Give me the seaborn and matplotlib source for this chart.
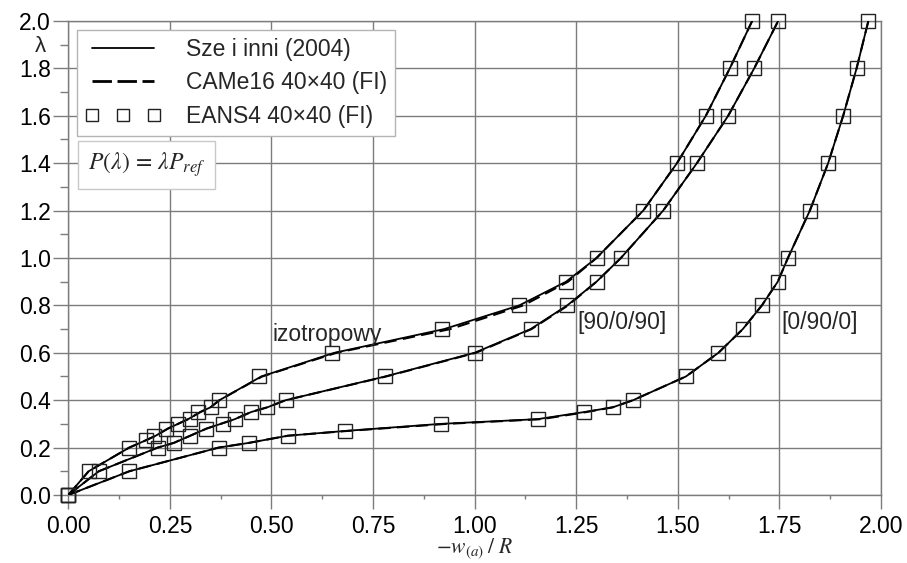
import matplotlib
matplotlib.use("Agg")
import matplotlib.pyplot as plt
from matplotlib.lines import Line2D
from matplotlib.ticker import MultipleLocator, FormatStrFormatter
import seaborn as sns

# ---------------- data ----------------
# load parameter lambda levels for each laminate
lam_iso = [0, 0.1, 0.2, 0.23, 0.25, 0.28, 0.3, 0.32, 0.35, 0.37, 0.4, 0.5, 0.6, 0.7, 0.8, 0.9, 1.0, 1.2, 1.4, 1.6, 1.8, 2.0]
lam_909 = [0, 0.1, 0.2, 0.22, 0.25, 0.28, 0.3, 0.32, 0.35, 0.37, 0.4, 0.5, 0.6, 0.7, 0.8, 0.9, 1.0, 1.2, 1.4, 1.6, 1.8, 2.0]
lam_090 = [0, 0.1, 0.2, 0.22, 0.25, 0.27, 0.3, 0.32, 0.35, 0.37, 0.4, 0.5, 0.6, 0.7, 0.8, 0.9, 1.0, 1.2, 1.4, 1.6, 1.8, 2.0]

# -w(a)/R : Sze i inni (2004)
sze_iso = [0, 0.05, 0.15, 0.19, 0.215, 0.245, 0.27, 0.295, 0.325, 0.35, 0.372, 0.475, 0.655, 0.925, 1.11, 1.225, 1.30, 1.415, 1.498, 1.569, 1.628, 1.683]
sze_909 = [0, 0.075, 0.22, 0.26, 0.30, 0.34, 0.375, 0.41, 0.45, 0.49, 0.535, 0.78, 1.0, 1.138, 1.228, 1.30, 1.36, 1.464, 1.547, 1.624, 1.688, 1.747]
sze_090 = [0, 0.15, 0.37, 0.445, 0.54, 0.68, 0.916, 1.155, 1.27, 1.34, 1.39, 1.52, 1.60, 1.66, 1.707, 1.746, 1.771, 1.825, 1.87, 1.907, 1.94, 1.969]

# -w(a)/R : CAMe16 40x40 (FI)
came_iso = [0, 0.05, 0.15, 0.19, 0.215, 0.245, 0.27, 0.295, 0.325, 0.35, 0.372, 0.477, 0.66, 0.94, 1.12, 1.23, 1.30, 1.415, 1.498, 1.569, 1.628, 1.683]
came_909 = [0, 0.075, 0.22, 0.26, 0.30, 0.34, 0.375, 0.41, 0.45, 0.49, 0.535, 0.782, 1.003, 1.14, 1.23, 1.30, 1.36, 1.464, 1.547, 1.624, 1.688, 1.747]
came_090 = [0, 0.15, 0.37, 0.445, 0.54, 0.685, 0.93, 1.165, 1.275, 1.34, 1.39, 1.52, 1.60, 1.66, 1.707, 1.746, 1.771, 1.825, 1.87, 1.907, 1.94, 1.969]

# -w(a)/R : EANS4 40x40 (FI)
eans_iso = [0, 0.05, 0.15, 0.19, 0.21, 0.24, 0.27, 0.30, 0.32, 0.35, 0.37, 0.47, 0.65, 0.92, 1.11, 1.225, 1.30, 1.415, 1.498, 1.569, 1.628, 1.683]
eans_909 = [0, 0.075, 0.22, 0.26, 0.30, 0.34, 0.38, 0.41, 0.45, 0.49, 0.535, 0.78, 1.0, 1.138, 1.228, 1.30, 1.36, 1.464, 1.547, 1.624, 1.688, 1.747]
eans_090 = [0, 0.15, 0.37, 0.445, 0.54, 0.68, 0.916, 1.155, 1.27, 1.34, 1.39, 1.52, 1.60, 1.66, 1.707, 1.746, 1.771, 1.825, 1.87, 1.907, 1.94, 1.969]

legend_labels = ["Sze i inni (2004)", "CAMe16 40×40 (FI)", "EANS4 40×40 (FI)"]
curve_labels = ["izotropowy", "[90/0/90]", "[0/90/0]"]
label_pos = [(0.502, 0.675), (1.254, 0.726), (1.756, 0.726)]

# ---------------- style ----------------
sns.set_theme(style="white")
plt.rcParams['font.family'] = ['Liberation Sans', 'DejaVu Sans']
plt.rcParams['mathtext.fontset'] = 'stix'

GRID = '#7c7c7c'
FS = 16.5

fig = plt.figure(figsize=(9.07, 5.63), dpi=100)
ax = fig.add_axes([0.0753, 0.1208, 0.896, 0.842])

ax.set_xlim(0, 2)
ax.set_ylim(0, 2)
ax.xaxis.set_major_locator(MultipleLocator(0.25))
ax.xaxis.set_minor_locator(MultipleLocator(0.125))
ax.yaxis.set_major_locator(MultipleLocator(0.2))
ax.yaxis.set_minor_locator(MultipleLocator(0.1))
ax.xaxis.set_major_formatter(FormatStrFormatter('%.2f'))
ax.yaxis.set_major_formatter(FormatStrFormatter('%.1f'))

ax.grid(True, which='major', color=GRID, lw=1.0)
ax.set_axisbelow(True)
for sp in ax.spines.values():
    sp.set_color(GRID)
    sp.set_linewidth(1.0)

ax.tick_params(axis='x', which='major', direction='out', length=10, width=1.0,
               color=GRID, pad=4.5, labelsize=FS, labelcolor='black')
ax.tick_params(axis='x', which='minor', direction='out', length=3, width=1.0, color=GRID)
ax.tick_params(axis='y', which='major', direction='out', length=10.5, width=1.0,
               color=GRID, pad=2, labelsize=FS, labelcolor='black')
ax.tick_params(axis='y', which='minor', direction='out', length=5.5, width=1.0, color=GRID)
ax.tick_params(bottom=True, left=True, which='both')

# ---------------- curves ----------------
for xs, ys in [(sze_iso, lam_iso), (sze_909, lam_909), (sze_090, lam_090)]:
    sns.lineplot(x=xs, y=ys, ax=ax, sort=False, estimator=None,
                 color='black', lw=1.3, zorder=3)

for xs, ys in [(came_iso, lam_iso), (came_909, lam_909), (came_090, lam_090)]:
    sns.lineplot(x=xs, y=ys, ax=ax, sort=False, estimator=None,
                 color='black', lw=1.5, linestyle=(0, (6, 3)), zorder=3)

for xs, ys in [(eans_iso, lam_iso), (eans_909, lam_909), (eans_090, lam_090)]:
    sns.lineplot(x=xs, y=ys, ax=ax, sort=False, estimator=None,
                 color='black', linestyle='', marker='s', markersize=9.5,
                 markerfacecolor='none', markeredgecolor='#222222',
                 markeredgewidth=1.0, clip_on=False, zorder=4)

# ---------------- legend ----------------
handles = [
    Line2D([], [], color='black', lw=1.3),
    Line2D([], [], color='black', lw=2.0, linestyle=(0, (7, 2))),
    Line2D([], [], linestyle='none', marker='s', markersize=8.5,
           markerfacecolor='none', markeredgecolor='#222222', markeredgewidth=1.0),
]
leg = ax.legend(handles, legend_labels, loc='upper left',
                bbox_to_anchor=(0.0107, 0.981), borderaxespad=0,
                numpoints=3, handlelength=3.3, handletextpad=1.1,
                labelspacing=0.45, borderpad=0.35, fontsize=FS,
                frameon=True, fancybox=False, framealpha=1,
                edgecolor='#b4b4b4')
leg.get_frame().set_linewidth(1.0)
leg.set_zorder(6)

# formula box
ax.text(0.024, 0.696, r'$P(\lambda)\,=\,\lambda P_{ref}$', transform=ax.transAxes,
        ha='left', va='center', fontsize=17, zorder=6,
        bbox=dict(boxstyle='square,pad=0.42', fc='white', ec='#c8c8c8', lw=1.0))

# curve labels
for txt, (px, py) in zip(curve_labels, label_pos):
    ax.text(px, py, txt, ha='left', va='center', fontsize=FS, zorder=5)

# axis labels
fig.text(40 / 907, 1 - 47 / 563, 'λ', ha='center', va='center', fontsize=16)
ax.set_xlabel(r'$-w_{(a)}\;/\;R$', fontsize=15.5)
ax.xaxis.label.set_va('bottom')
ax.xaxis.set_label_coords(0.5, -0.1395)
ax.set_ylabel('')

fig.savefig('out.png', dpi=100)
